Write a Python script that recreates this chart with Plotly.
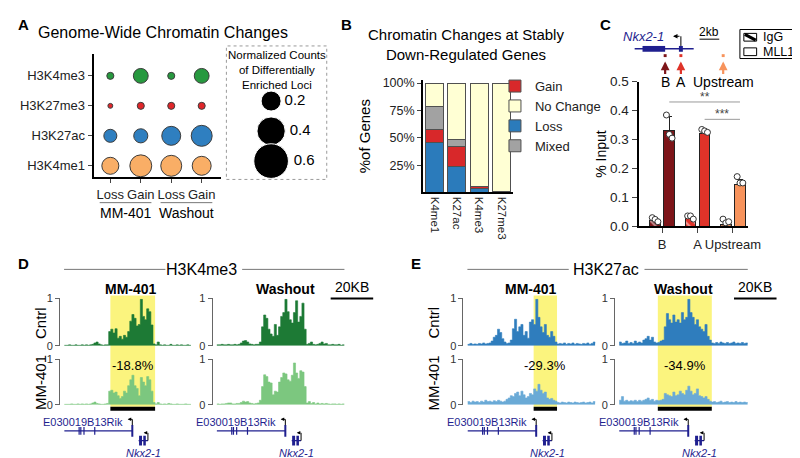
import plotly.graph_objects as go

W, H = 800, 458
FONT = "Liberation Sans, Arial, Helvetica, sans-serif"


def X(px):
    return px / W


def Y(py):
    return 1 - py / H


# ---------------- Panel A data ----------------
a_marks = ["H3K4me1", "H3K27ac", "H3K27me3", "H3K4me3"]
a_conditions = ["Loss", "Gain", "Loss", "Gain"]
a_groups = ["MM-401", "Washout"]
a_h3k4me3 = [0.025, 0.11, 0.025, 0.11]
a_h3k27me3 = [0.012, 0.025, 0.025, 0.025]
a_h3k27ac = [0.085, 0.10, 0.18, 0.22]
a_h3k4me1 = [0.145, 0.24, 0.22, 0.18]
a_size_key = [0.2, 0.4, 0.6]
a_colors = ["#f9ae66", "#2f7fc0", "#e0262a", "#27993f"]

# ---------------- Panel B data ----------------
b_marks = ["K4me1", "K27ac", "K4me3", "K27me3"]
b_loss = [0.46, 0.24, 0.04, 0.005]
b_gain = [0.115, 0.18, 0.012, 0.0]
b_mixed = [0.21, 0.06, 0.0, 0.0]
b_nochange = [0.215, 0.52, 0.948, 0.995]
b_yticks = [0.25, 0.5, 0.75, 1.0]
b_yticklabels = ["25%", "50%", "75%", "100%"]

# ---------------- Panel C data ----------------
c_sites = ["B", "A", "Upstream"]
c_colors = ["#7d1519", "#df3329", "#f7935c"]
c_igg = [0.02, 0.028, 0.006]
c_igg_err = [0.008, 0.006, 0.008]
c_mll1 = [0.33, 0.32, 0.145]
c_mll1_err = [0.05, 0.015, 0.018]
c_igg_pts = [[0.03, 0.024, 0.016], [0.036, 0.036, 0.025], [0.025, 0.012, 0.016]]
c_mll1_pts = [[0.385, 0.318, 0.305], [0.335, 0.33, 0.325], [0.172, 0.15, 0.15]]

# ---------------- Panels D / E data (normalised signal per 1 kb bin) ----------------
track_kb = list(range(61))
d_cntrl_mm401 = [0.01, 0.01, 0.02, 0.01, 0.01, 0.02, 0.01, 0.01, 0.02, 0.01, 0.02, 0.01, 0.02, 0.03, 0.06, 0.08, 0.04, 0.02, 0.01, 0.02, 0.02,
                 0.30, 0.35, 0.27, 0.36, 0.16, 0.20, 0.14, 0.22, 0.18, 0.30, 0.52, 0.66, 0.58, 0.42, 0.45, 0.98, 0.62, 0.55, 0.78, 0.72, 0.44, 0.04,
                 0.02, 0.08, 0.02, 0.01, 0.02, 0.01, 0.01, 0.03, 0.01, 0.01, 0.02, 0.01, 0.02, 0.01, 0.01, 0.02, 0.01, 0.01]
d_treat_mm401 = [0.01, 0.01, 0.01, 0.02, 0.01, 0.01, 0.02, 0.01, 0.02, 0.01, 0.02, 0.01, 0.02, 0.04, 0.06, 0.03, 0.02, 0.01, 0.01, 0.02, 0.03,
                 0.30, 0.32, 0.26, 0.28, 0.20, 0.14, 0.18, 0.30, 0.26, 0.42, 0.55, 0.65, 0.42, 0.36, 0.20, 0.60, 0.50, 0.42, 0.62, 0.55, 0.30, 0.05,
                 0.02, 0.05, 0.02, 0.01, 0.02, 0.01, 0.03, 0.02, 0.01, 0.01, 0.02, 0.01, 0.01, 0.01, 0.02, 0.01, 0.01, 0.01]
d_cntrl_wash = [0.02, 0.02, 0.03, 0.02, 0.02, 0.03, 0.02, 0.02, 0.03, 0.02, 0.03, 0.06, 0.10, 0.11, 0.08, 0.04, 0.03, 0.02, 0.03, 0.03, 0.08,
                0.40, 0.65, 0.58, 0.35, 0.25, 0.20, 0.45, 0.22, 0.40, 0.62, 0.70, 0.98, 0.72, 0.55, 0.48, 0.70, 0.95, 0.50, 0.62, 0.90, 0.35, 0.03,
                0.05, 0.08, 0.03, 0.02, 0.03, 0.05, 0.08, 0.04, 0.05, 0.02, 0.02, 0.03, 0.02, 0.02, 0.03, 0.01, 0.02, 0.01]
d_treat_wash = [0.02, 0.01, 0.02, 0.02, 0.03, 0.04, 0.04, 0.02, 0.02, 0.03, 0.03, 0.05, 0.08, 0.06, 0.07, 0.04, 0.03, 0.02, 0.03, 0.04, 0.10,
                0.40, 0.66, 0.62, 0.50, 0.48, 0.22, 0.30, 0.28, 0.50, 0.60, 0.70, 0.68, 0.55, 0.52, 0.65, 0.92, 0.70, 0.58, 0.75, 0.72, 0.40, 0.04,
                0.07, 0.03, 0.05, 0.02, 0.04, 0.02, 0.03, 0.02, 0.03, 0.02, 0.01, 0.02, 0.02, 0.01, 0.02, 0.01, 0.02, 0.01]
e_cntrl_mm401 = [0.03, 0.05, 0.03, 0.04, 0.03, 0.05, 0.04, 0.06, 0.04, 0.05, 0.06, 0.10, 0.18, 0.22, 0.35, 0.28, 0.15, 0.08, 0.05, 0.06, 0.12,
                 0.36, 0.56, 0.30, 0.40, 0.45, 0.22, 0.30, 0.16, 0.50, 0.55, 0.45, 0.98, 0.60, 0.40, 0.28, 0.45, 0.22, 0.18, 0.30, 0.20, 0.08, 0.04,
                 0.05, 0.04, 0.06, 0.03, 0.05, 0.04, 0.06, 0.03, 0.05, 0.04, 0.03, 0.05, 0.04, 0.06, 0.03, 0.05, 0.08, 0.05]
e_treat_mm401 = [0.07, 0.05, 0.08, 0.06, 0.07, 0.05, 0.08, 0.06, 0.10, 0.07, 0.08, 0.06, 0.09, 0.07, 0.10, 0.08, 0.06, 0.08, 0.12, 0.15, 0.20,
                 0.18, 0.25, 0.28, 0.20, 0.30, 0.22, 0.15, 0.18, 0.25, 0.22, 0.35, 0.30, 0.45, 0.32, 0.25, 0.28, 0.15, 0.12, 0.14, 0.10, 0.08, 0.05,
                 0.04, 0.06, 0.05, 0.04, 0.06, 0.05, 0.04, 0.06, 0.05, 0.04, 0.05, 0.06, 0.04, 0.05, 0.06, 0.04, 0.07, 0.05]
e_cntrl_wash = [0.08, 0.05, 0.06, 0.10, 0.05, 0.07, 0.05, 0.10, 0.06, 0.08, 0.06, 0.12, 0.15, 0.20, 0.12, 0.18, 0.08, 0.06, 0.07, 0.10, 0.12,
                0.40, 0.68, 0.55, 0.48, 0.65, 0.50, 0.55, 0.48, 0.70, 0.55, 0.60, 0.98, 0.70, 0.60, 0.45, 0.55, 0.40, 0.35, 0.30, 0.45, 0.20, 0.12,
                0.06, 0.05, 0.07, 0.05, 0.08, 0.06, 0.05, 0.07, 0.05, 0.06, 0.08, 0.05, 0.06, 0.05, 0.07, 0.05, 0.06, 0.05]
e_treat_wash = [0.10, 0.18, 0.08, 0.10, 0.07, 0.09, 0.08, 0.10, 0.07, 0.10, 0.08, 0.10, 0.12, 0.15, 0.10, 0.12, 0.08, 0.10, 0.09, 0.10, 0.12,
                0.25, 0.22, 0.20, 0.18, 0.28, 0.20, 0.22, 0.30, 0.25, 0.22, 0.32, 0.41, 0.30, 0.22, 0.25, 0.35, 0.20, 0.18, 0.15, 0.18, 0.12, 0.08,
                0.06, 0.07, 0.05, 0.06, 0.08, 0.05, 0.06, 0.07, 0.05, 0.06, 0.05, 0.07, 0.05, 0.06, 0.05, 0.06, 0.05, 0.06]

hl_d_mm401 = [21.8, 43.0]
hl_e_mm401 = [31.0, 42.0]
hl_e_wash = [18.0, 43.2]
pct_d_mm401 = "-18.8%"
pct_e_mm401 = "-29.3%"
pct_e_wash = "-34.9%"
scale_kb = 20

gene_rik_span = [0.0, 32.2]
gene_rik_exons = [7.0, 7.8, 9.3, 14.4]
gene_nkx_span = [35.2, 39.6]
gene_nkx_exons = [[35.4, 36.8], [37.4, 38.6]]

dark_green, light_green = "#1d7a35", "#7cc77f"
dark_blue, light_blue = "#2f7dbd", "#6aaad6"
navy = "#1f1f8f"
yellow = "#fbf47e"

fig = go.Figure()
shapes, annos = [], []


def txt(x, y, s, size=13, xanchor="center", bold=False, italic=False, color="black",
        angle=0, xref="paper", yref="paper"):
    if bold:
        s = "<b>" + s + "</b>"
    if italic:
        s = "<i>" + s + "</i>"
    annos.append(dict(x=x, y=y, xref=xref, yref=yref, text=s, showarrow=False,
                      xanchor=xanchor, yanchor="middle", textangle=angle,
                      font=dict(size=size, color=color, family=FONT)))


def pline(x0, y0, x1, y1, color="black", width=1, xref="paper", yref="paper", dash=None):
    shapes.append(dict(type="line", x0=x0, y0=y0, x1=x1, y1=y1, xref=xref, yref=yref,
                       line=dict(color=color, width=width, dash=dash)))


def prect(x0, y0, x1, y1, fill, color=None, width=0, xref="paper", yref="paper", layer="above"):
    shapes.append(dict(type="rect", x0=x0, y0=y0, x1=x1, y1=y1, xref=xref, yref=yref,
                       fillcolor=fill, layer=layer,
                       line=dict(color=color or fill, width=width)))


# ---------------- Panel A ----------------
a_x = list(range(len(a_conditions)))
for mark, vals, col in zip(a_marks, [a_h3k4me1, a_h3k27ac, a_h3k27me3, a_h3k4me3], a_colors):
    fig.add_trace(go.Scatter(x=a_x, y=[mark] * len(vals), mode="markers", showlegend=False,
                             marker=dict(size=vals, sizemode="area", sizeref=0.001, color=col,
                                         opacity=1, line=dict(color="#3c3c3c", width=1)),
                             xaxis="x", yaxis="y", cliponaxis=False, hoverinfo="skip"))
fig.add_trace(go.Scatter(x=[0] * len(a_size_key), y=[str(v) for v in a_size_key], mode="markers+text",
                         text=[str(v) for v in a_size_key], textposition="middle right",
                         textfont=dict(size=15, family=FONT, color="black"),
                         marker=dict(size=a_size_key, sizemode="area", sizeref=0.001, color="black", opacity=1),
                         showlegend=False, xaxis="x2", yaxis="y2", cliponaxis=False, hoverinfo="skip"))

txt(X(8), Y(10), "A", 15, "left", bold=True)
txt(X(158), Y(18), "Genome-Wide Chromatin Changes", 16)
txt(X(273), Y(57), "Normalized Counts<br>of Differentially<br>Enriched Loci", 11.5)
prect(X(222), Y(170), X(324), Y(32), "rgba(0,0,0,0)", "#9a9a9a", 1)
shapes[-1]["line"]["dash"] = "dot"
for gi, g in enumerate(a_groups):
    txt(2 * gi + 0.5, Y(205), g, 14, xref="x")
    pline(2 * gi - 0.35, Y(194), 2 * gi + 1.35, Y(194), "#777", 1, xref="x")

# ---------------- Panel B ----------------
for name, vals, col, rank in [("Loss", b_loss, "#2b7bbb", 3), ("Gain", b_gain, "#d8282a", 1),
                              ("Mixed", b_mixed, "#a2a2a2", 4), ("No Change", b_nochange, "#ffffd4", 2)]:
    fig.add_trace(go.Bar(x=b_marks, y=vals, name=name, legendrank=rank, legend="legend",
                         marker=dict(color=col, line=dict(color="#505050", width=1)),
                         xaxis="x3", yaxis="y3", hoverinfo="skip"))
txt(X(336), Y(10), "B", 15, "left", bold=True)
txt(X(466), Y(31), "Chromatin Changes at Stably<br>Down-Regulated Genes", 15)

# ---------------- Panel C ----------------
c_idx = list(range(len(c_sites)))
fig.add_trace(go.Bar(x=[i - 0.2 for i in c_idx], y=c_igg, width=0.3, showlegend=False,
                     marker=dict(color=c_colors, line=dict(color="#222", width=1),
                                 pattern=dict(shape="\\", fgcolor="black", size=6, solidity=0.35)),
                     error_y=dict(type="data", array=c_igg_err, arrayminus=[0] * 3, symmetric=False,
                                  color="#222", thickness=1, width=2),
                     xaxis="x4", yaxis="y4", hoverinfo="skip"))
fig.add_trace(go.Bar(x=[i + 0.2 for i in c_idx], y=c_mll1, width=0.3, showlegend=False,
                     marker=dict(color=c_colors, line=dict(color="#222", width=1)),
                     error_y=dict(type="data", array=c_mll1_err, arrayminus=[0] * 3, symmetric=False,
                                  color="#222", thickness=1, width=3),
                     xaxis="x4", yaxis="y4", hoverinfo="skip"))
jit = [-0.08, 0.0, 0.08]
px_, py_ = [], []
for i in c_idx:
    for j, v in enumerate(c_igg_pts[i]):
        px_.append(i - 0.2 + jit[j]); py_.append(v)
    for j, v in enumerate(c_mll1_pts[i]):
        px_.append(i + 0.2 + jit[j]); py_.append(v)
fig.add_trace(go.Scatter(x=px_, y=py_, mode="markers", showlegend=False, cliponaxis=False,
                         marker=dict(size=6, color="white", line=dict(color="#333", width=1)),
                         xaxis="x4", yaxis="y4", hoverinfo="skip"))
# significance brackets
pline(0.2, 0.43, 2.2, 0.43, "#9a9a9a", 1, xref="x4", yref="y4")
pline(1.2, 0.37, 2.2, 0.37, "#9a9a9a", 1, xref="x4", yref="y4")
txt(1.2, 0.447, "**", 12, xref="x4", yref="y4", color="#444")
txt(1.7, 0.387, "***", 12, xref="x4", yref="y4", color="#444")

txt(X(600), Y(10), "C", 15, "left", bold=True)
# gene diagram for Nkx2-1 locus
txt(X(646), Y(22), "Nkx2-1", 13, italic=True, color=navy)
pline(X(637), Y(35), X(697), Y(35), navy, 1.5)
prect(X(645), Y(38), X(668), Y(32), navy)
prect(X(682), Y(38), X(686), Y(32), navy)
pline(X(684), Y(32), X(684), Y(22), "black", 1)
annos.append(dict(x=X(676), y=Y(22), xref="paper", yref="paper", ax=8, ay=0, text="", showarrow=True,
                  arrowhead=2, arrowsize=0.9, arrowwidth=1, arrowcolor="black"))
txt(X(713), Y(18), "2kb", 12)
pline(X(703), Y(25), X(723), Y(25), "black", 1)
for xp, col, lab in [(668, c_colors[0], "B"), (684, c_colors[1], "A"), (727, c_colors[2], "Upstream")]:
    prect(X(xp - 1.5), Y(43.5), X(xp + 1.5), Y(40.5), col)
    annos.append(dict(x=X(xp), y=Y(48), xref="paper", yref="paper", ax=0, ay=14, text="", showarrow=True,
                      arrowhead=2, arrowsize=0.8, arrowwidth=2.2, arrowcolor=col))
    txt(X(xp), Y(69), lab, 14)
# IgG / MLL1 key
prect(X(744), Y(45), X(799), Y(15), "white", "black", 1)
prect(X(748), Y(27), X(761), Y(19), "white", "black", 1)
pline(X(749), Y(20), X(760), Y(26), "black", 3)
txt(X(765), Y(23), "IgG", 12.5, "left")
prect(X(748), Y(42), X(761), Y(34), "white", "black", 1)
txt(X(765), Y(38), "MLL1", 12.5, "left")

# ---------------- Panels D / E ----------------
cols = {
    "D_mm": (53, 186), "D_wash": (208, 342), "E_mm": (463, 597), "E_wash": (617, 752)}
rows = {"cntrl": (293, 342), "treat": (356, 403)}
track_specs = [
    ("D_mm", "cntrl", d_cntrl_mm401, dark_green), ("D_mm", "treat", d_treat_mm401, light_green),
    ("D_wash", "cntrl", d_cntrl_wash, dark_green), ("D_wash", "treat", d_treat_wash, light_green),
    ("E_mm", "cntrl", e_cntrl_mm401, dark_blue), ("E_mm", "treat", e_treat_mm401, light_blue),
    ("E_wash", "cntrl", e_cntrl_wash, dark_blue), ("E_wash", "treat", e_treat_wash, light_blue),
]
layout_axes = {}
col_axis = {}
for k, (col, row, vals, color) in enumerate(track_specs):
    n = 5 + k
    xa, ya = "x%d" % n, "y%d" % n
    fig.add_trace(go.Scatter(x=track_kb, y=vals, mode="lines", fill="tozeroy", fillcolor=color,
                             line=dict(color=color, width=0.6, shape="hv"), showlegend=False,
                             xaxis=xa, yaxis=ya, hoverinfo="skip"))
    l, r = cols[col]
    t, b = rows[row]
    layout_axes["xaxis%d" % n] = dict(domain=[X(l), X(r)], range=[-2, 60], visible=False, anchor=ya)
    layout_axes["yaxis%d" % n] = dict(domain=[Y(b), Y(t)], range=[0, 1], anchor=xa, showgrid=False,
                                      zeroline=False, showline=True, linecolor="#666", linewidth=1,
                                      ticks="outside", ticklen=4, tickcolor="#666", tickvals=[0, 1],
                                      ticktext=["0", "1"], tickfont=dict(size=11, color="#333", family=FONT))
    if row == "treat":
        col_axis[col] = xa

# highlights, percentage labels, black region bars
for col, span, pct in [("D_mm", hl_d_mm401, pct_d_mm401), ("E_mm", hl_e_mm401, pct_e_mm401),
                       ("E_wash", hl_e_wash, pct_e_wash)]:
    xa = col_axis[col]
    prect(span[0], Y(405), span[1], Y(290), yellow, xref=xa, layer="below")
    txt((span[0] + span[1]) / 2, Y(362), pct, 13, xref=xa)
    pline(span[0], Y(407), span[1], Y(407), "black", 4, xref=xa)

# gene models
for col in cols:
    xa = col_axis[col]
    pline(gene_rik_span[0], Y(430), gene_rik_span[1], Y(430), navy, 1.2, xref=xa)
    for e in gene_rik_exons:
        pline(e, Y(426), e, Y(434), navy, 1.2, xref=xa)
    pline(gene_rik_span[1], Y(424), gene_rik_span[1], Y(436), navy, 2, xref=xa)
    pline(gene_rik_span[1], Y(424), gene_rik_span[1], Y(418), "black", 1, xref=xa)
    annos.append(dict(x=gene_rik_span[1] - 2.2, y=Y(418), xref=xa, yref="paper", ax=6, ay=0, text="",
                      showarrow=True, arrowhead=2, arrowsize=0.7, arrowwidth=1, arrowcolor="black"))
    txt(gene_rik_span[1] - 3.5, Y(421), "E030019B13Rik", 11, "right", color=navy, xref=xa)
    pline(gene_nkx_span[0], Y(440), gene_nkx_span[1], Y(440), navy, 1.2, xref=xa)
    for e0, e1 in gene_nkx_exons:
        prect(e0, Y(445), e1, Y(435), navy, xref=xa)
    pline(gene_nkx_span[1], Y(440), gene_nkx_span[1], Y(432), "black", 1, xref=xa)
    annos.append(dict(x=gene_nkx_span[1] - 2.0, y=Y(432), xref=xa, yref="paper", ax=5, ay=0, text="",
                      showarrow=True, arrowhead=2, arrowsize=0.7, arrowwidth=1, arrowcolor="black"))
    txt((gene_nkx_span[0] + gene_nkx_span[1]) / 2, Y(453), "Nkx2-1", 11, italic=True, color=navy, xref=xa)

# headers
for letter, lx, mark, cx, l0, l1, r0, r1, mm_x, wash_x, sc_x in [
        ("D", 8, "H3K4me3", 197, 57, 160, 238, 342, 125, 282, 328),
        ("E", 408, "H3K27ac", 608, 467, 570, 647, 752, 532, 687, 738)]:
    txt(X(lx), Y(257), letter, 15, "left", bold=True)
    txt(X(cx), Y(263), mark, 16)
    pline(X(l0), Y(263), X(l1), Y(263), "#777", 1)
    pline(X(r0), Y(263), X(r1), Y(263), "#777", 1)
    txt(X(mm_x), Y(283), "MM-401", 14, bold=True)
    txt(X(wash_x), Y(283), "Washout", 14, bold=True)
    sc_len = scale_kb * (134 / 62)
    txt(X(sc_x + sc_len / 2), Y(281), "20KB", 14)
    pline(X(sc_x), Y(293), X(sc_x + sc_len), Y(293), "black", 2)
    txt(X(lx + 25), Y(318), "Cntrl", 15, angle=-90)
    txt(X(lx + 25), Y(380), "MM-401", 15, angle=-90)

fig.update_layout(
    width=W, height=H, margin=dict(l=0, r=0, t=0, b=0),
    paper_bgcolor="white", plot_bgcolor="rgba(0,0,0,0)",
    font=dict(family=FONT, color="black"),
    barmode="stack", bargap=0.2,
    xaxis=dict(domain=[X(87), X(217)], range=[-0.55, 3.65], tickvals=a_x, ticktext=a_conditions,
               tickangle=0, showline=True, linecolor="black", linewidth=2, ticks="outside", ticklen=4,
               tickfont=dict(family=FONT, size=13, color="#222"), showgrid=False, zeroline=False, anchor="y"),
    yaxis=dict(domain=[Y(168), Y(40)], type="category", categoryorder="array", categoryarray=a_marks,
               range=[-0.39, 3.74], showline=True, linecolor="black", linewidth=2, ticks="outside",
               ticklen=4, tickfont=dict(family=FONT, size=13, color="#222"), showgrid=False, zeroline=False,
               anchor="x"),
    xaxis2=dict(domain=[X(222), X(323)], range=[-0.45, 0.55], visible=False, anchor="y2"),
    yaxis2=dict(domain=[Y(165), Y(75)], type="category", categoryorder="array",
                categoryarray=[str(v) for v in a_size_key], range=[2.45, -0.45], visible=False, anchor="x2"),
    xaxis3=dict(domain=[X(422), X(513)], type="category", tickangle=90, showline=True, linecolor="black",
                linewidth=2, ticks="", tickfont=dict(family=FONT, size=11.5, color="#222"), showgrid=False,
                zeroline=False, anchor="y3"),
    yaxis3=dict(domain=[Y(183.5), Y(67)], range=[0, 1.03], tickvals=b_yticks, ticktext=b_yticklabels,
                showline=True, linecolor="black", linewidth=2, ticks="outside", ticklen=4,
                tickfont=dict(family=FONT, size=12.5, color="#222"), showgrid=False, zeroline=False,
                title=dict(text="%of Genes", font=dict(family=FONT, size=15), standoff=8), anchor="x3"),
    xaxis4=dict(domain=[X(641), X(752)], range=[-0.667, 2.42], tickvals=c_idx, ticktext=c_sites,
                tickangle=0, showline=True, linecolor="black", linewidth=2, ticks="outside", ticklen=5,
                tickfont=dict(family=FONT, size=13, color="#222"), showgrid=False, zeroline=False, anchor="y4"),
    yaxis4=dict(domain=[Y(218.5), Y(69)], range=[0, 0.5], dtick=0.1, tickformat=".1f",
                showline=True, linecolor="black", linewidth=2, ticks="outside", ticklen=5,
                tickfont=dict(family=FONT, size=13.5, color="#222"), showgrid=False, zeroline=False,
                title=dict(text="% Input", font=dict(family=FONT, size=14), standoff=0), anchor="x4"),
    legend=dict(x=X(495), y=Y(58), xanchor="left", yanchor="top", bgcolor="rgba(0,0,0,0)",
                font=dict(family=FONT, size=13, color="#222"), traceorder="normal"),
    shapes=shapes, annotations=annos,
)
fig.update_layout(**layout_axes)
fig.write_html("out.html")
